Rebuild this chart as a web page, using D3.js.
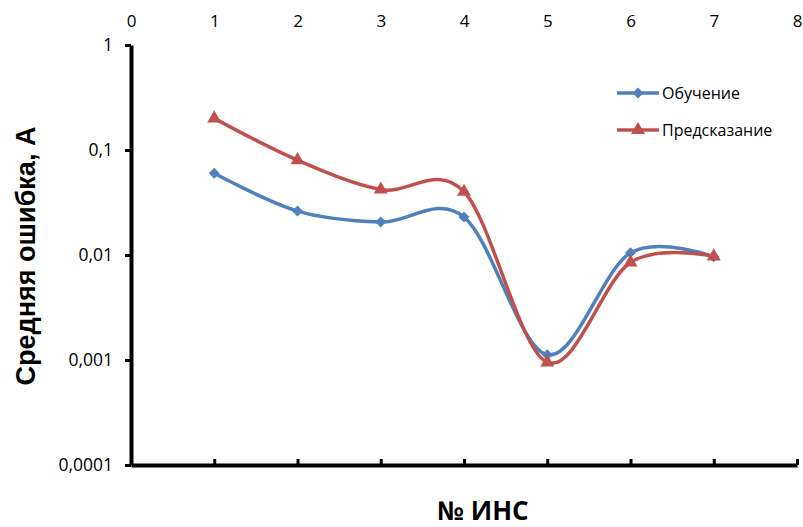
<!DOCTYPE html>
<html>
<head>
<meta charset="utf-8">
<script src="https://cdn.jsdelivr.net/npm/d3@7"></script>
<style>
  body { margin: 0; background: #fff; }
  text { font-family: "Open Sans", sans-serif; }
</style>
</head>
<body>
<div id="chart"></div>
<script>
const xValues = [1, 2, 3, 4, 5, 6, 7];
const trainErr = [0.06, 0.0262, 0.0206, 0.023, 0.00112, 0.0105, 0.0096];
const predErr = [0.2, 0.08, 0.042, 0.04, 0.00095, 0.0085, 0.0097];
const xTicks = [0, 1, 2, 3, 4, 5, 6, 7, 8];
const yTicks = [0.0001, 0.001, 0.01, 0.1, 1];
const seriesNames = ["Обучение", "Предсказание"];

const W = 803, H = 527;
const svg = d3.select("#chart").append("svg").attr("width", W).attr("height", H);

const x = d3.scaleLinear().domain([0, 8]).range([131, 797]);
const y = d3.scaleLog().domain([0.0001, 1]).range([465, 45]);

// bottom axis line, ticks pointing up, no labels
const xAxis = svg.append("g")
  .attr("transform", "translate(0,465)")
  .call(d3.axisBottom(x).tickValues(xTicks).tickSizeInner(-6).tickSizeOuter(0).tickFormat(""));
xAxis.select(".domain").attr("stroke-width", 4);
xAxis.selectAll(".tick line").attr("stroke-width", 3);

// labels at the top
const xTop = svg.append("g")
  .attr("transform", "translate(0,27)")
  .call(d3.axisTop(x).tickValues(xTicks).tickSize(0).tickPadding(0));
xTop.select(".domain").remove();
xTop.selectAll("text").attr("font-size", 17).attr("fill", "#000")
  .style("font-family", "Open Sans");

const yAxis = svg.append("g")
  .attr("transform", "translate(131,0)")
  .call(d3.axisLeft(y).tickValues(yTicks).tickSizeInner(6).tickSizeOuter(0).tickPadding(12)
    .tickFormat(d => String(d).replace(".", ",")));
yAxis.select(".domain").attr("stroke-width", 4);
yAxis.selectAll(".tick line").attr("stroke-width", 3);
yAxis.selectAll("text").attr("font-size", 17.5).attr("fill", "#000")
  .style("font-family", "Open Sans");

// axis titles
svg.append("text")
  .attr("transform", "translate(35,256) rotate(-90)")
  .attr("text-anchor", "middle")
  .style("font-family", "Liberation Sans")
  .attr("font-weight", "bold").attr("font-size", 27)
  .text("Средняя ошибка, А");

svg.append("text")
  .attr("x", 483).attr("y", 520)
  .attr("text-anchor", "middle")
  .attr("font-weight", "bold").attr("font-size", 26)
  .text("№ ИНС");

const colors = ["#4F81BD", "#C0504D"];
const series = [trainErr, predErr];
const line = d3.line()
  .x((d, i) => x(xValues[i]))
  .y(d => y(d))
  .curve(d3.curveCatmullRom.alpha(0));

const diamond = d3.symbol(d3.symbolSquare, 60);
const triangle = d3.symbol(d3.symbolTriangle, 85);

series.forEach((vals, s) => {
  svg.append("path")
    .datum(vals)
    .attr("d", line)
    .attr("fill", "none")
    .attr("stroke", colors[s])
    .attr("stroke-width", 3.5);

  svg.selectAll(".m" + s)
    .data(vals)
    .enter()
    .append("path")
    .attr("class", "m" + s)
    .attr("d", s === 0 ? diamond : triangle)
    .attr("transform", (d, i) => "translate(" + x(xValues[i]) + "," + y(d) + ")" + (s === 0 ? " rotate(45)" : ""))
    .attr("fill", colors[s]);
});

// legend
const legend = svg.append("g");
seriesNames.forEach((name, s) => {
  const ly = 93 + s * 37;
  legend.append("line")
    .attr("x1", 617).attr("x2", 659).attr("y1", ly).attr("y2", ly)
    .attr("stroke", colors[s]).attr("stroke-width", 3.5);
  legend.append("path")
    .attr("d", s === 0 ? diamond : triangle)
    .attr("transform", "translate(638," + ly + ")" + (s === 0 ? " rotate(45)" : ""))
    .attr("fill", colors[s]);
  legend.append("text")
    .attr("x", 662).attr("y", ly)
    .attr("dy", "0.35em")
    .attr("font-size", 16)
    .text(name);
});
</script>
</body>
</html>
